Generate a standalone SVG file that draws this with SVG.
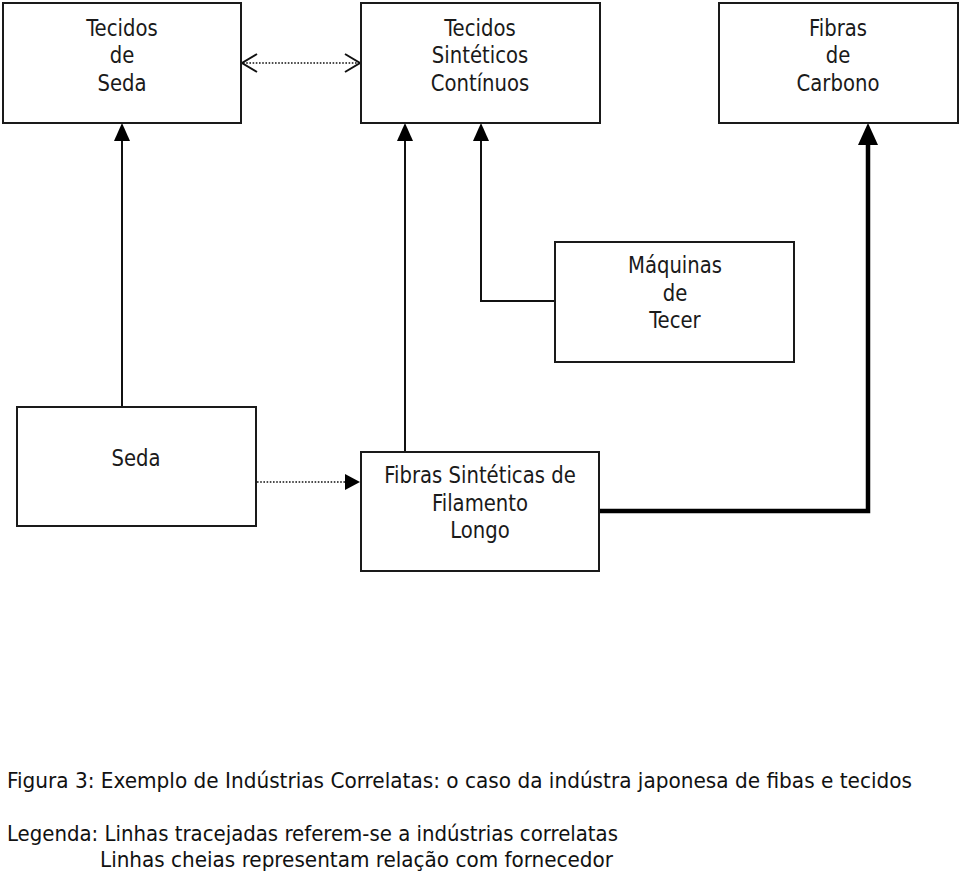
<svg xmlns="http://www.w3.org/2000/svg" width="960" height="876" viewBox="0 0 960 876">
<style>
.box{fill:#fff;stroke:#1a1a1a;stroke-width:2}
.t{font-family:"DejaVu Sans Condensed","DejaVu Sans",sans-serif;font-size:23px;fill:#1a1a1a;text-anchor:middle}
.c{font-family:"DejaVu Sans Condensed","DejaVu Sans",sans-serif;font-size:21px;fill:#111}
.ln{fill:none;stroke:#111;stroke-width:2}
.dot{fill:none;stroke:#111;stroke-width:1.6;stroke-dasharray:1.6 1.6}
.head{fill:#000}
</style>
<rect width="960" height="876" fill="#fff"/>
<g id="connectors">
  <line class="dot" x1="243" y1="63" x2="359" y2="63"/>
  <polyline class="ln" points="257,54 242,63 257,72"/>
  <polyline class="ln" points="345,54 360,63 345,72"/>
  <line class="dot" x1="257" y1="482" x2="346" y2="482"/>
  <polygon class="head" points="345,474 360,482 345,490"/>
  <line class="ln" x1="122" y1="406" x2="122" y2="138"/>
  <polygon class="head" points="114,141 122,123 130,141"/>
  <line class="ln" x1="405" y1="451" x2="405" y2="138"/>
  <polygon class="head" points="397,141 405,123 413,141"/>
  <polyline class="ln" points="555,301 481,301 481,138"/>
  <polygon class="head" points="473,141 481,123 489,141"/>
  <polyline fill="none" stroke="#000" stroke-width="4.5" points="600,511 868,511 868,140"/>
  <polygon class="head" points="858,145 868,123 878,145"/>
</g>
<g id="n1">
  <rect class="box" x="3" y="3" width="238" height="120"/>
  <text class="t" transform="translate(122,36) scale(0.95,1)">Tecidos</text>
  <text class="t" transform="translate(122,63) scale(0.95,1)">de</text>
  <text class="t" transform="translate(122,91) scale(0.95,1)">Seda</text>
</g>
<g id="n2">
  <rect class="box" x="361" y="3" width="239" height="120"/>
  <text class="t" transform="translate(480,36) scale(0.95,1)">Tecidos</text>
  <text class="t" transform="translate(480,63) scale(0.95,1)">Sintéticos</text>
  <text class="t" transform="translate(480,91) scale(0.95,1)">Contínuos</text>
</g>
<g id="n3">
  <rect class="box" x="719" y="3" width="239" height="120"/>
  <text class="t" transform="translate(838,36) scale(0.95,1)">Fibras</text>
  <text class="t" transform="translate(838,63) scale(0.95,1)">de</text>
  <text class="t" transform="translate(838,91) scale(0.95,1)">Carbono</text>
</g>
<g id="n4">
  <rect class="box" x="555" y="242" width="239" height="120"/>
  <text class="t" transform="translate(675,273) scale(0.95,1)">Máquinas</text>
  <text class="t" transform="translate(675,301) scale(0.95,1)">de</text>
  <text class="t" transform="translate(675,328) scale(0.95,1)">Tecer</text>
</g>
<g id="n5">
  <rect class="box" x="17" y="407" width="239" height="119"/>
  <text class="t" transform="translate(136,466) scale(0.95,1)">Seda</text>
</g>
<g id="n6">
  <rect class="box" x="361" y="452" width="238" height="119"/>
  <text class="t" transform="translate(480,483) scale(0.95,1)">Fibras Sintéticas de</text>
  <text class="t" transform="translate(480,511) scale(0.95,1)">Filamento</text>
  <text class="t" transform="translate(480,538) scale(0.95,1)">Longo</text>
</g>
<g id="caption">
  <text class="c" x="7" y="788" textLength="905" lengthAdjust="spacingAndGlyphs">Figura 3: Exemplo de Indústrias Correlatas: o caso da indústra japonesa de fibas e tecidos</text>
  <text class="c" x="7" y="841" textLength="611" lengthAdjust="spacingAndGlyphs">Legenda: Linhas tracejadas referem-se a indústrias correlatas</text>
  <text class="c" x="100" y="867" textLength="513" lengthAdjust="spacingAndGlyphs">Linhas cheias representam relação com fornecedor</text>
</g>
</svg>
